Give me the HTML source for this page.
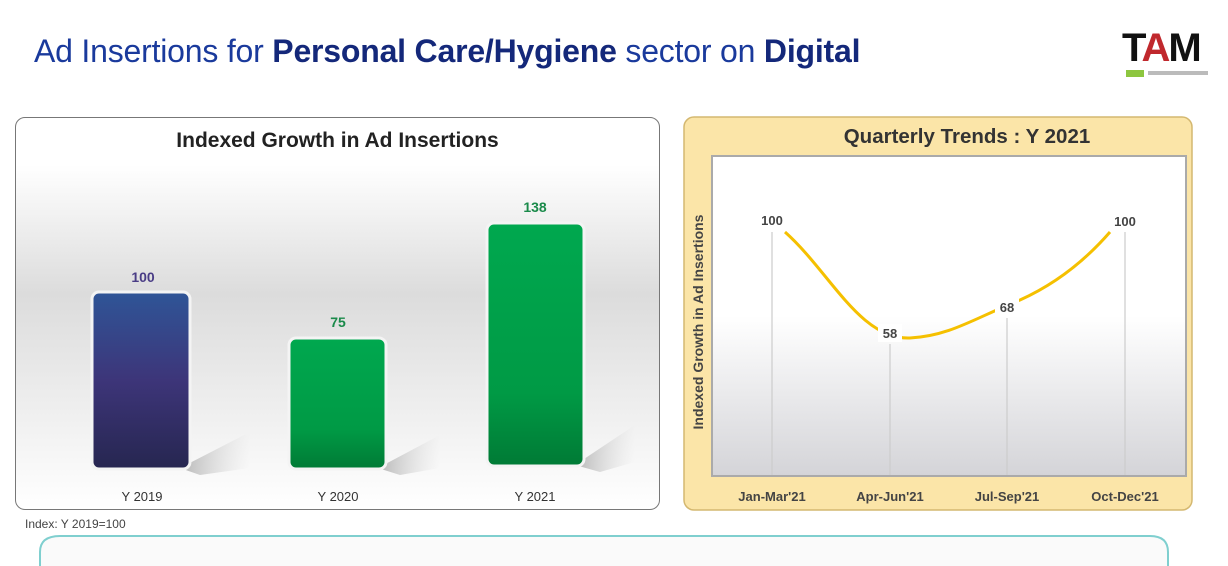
<!DOCTYPE html>
<html><head><style>
body{margin:0;width:1228px;height:566px;background:#fff;position:relative;overflow:hidden;font-family:"Liberation Sans",sans-serif}
.t{position:absolute;left:34px;top:33px;font-size:32px;color:#1a3a9c;letter-spacing:-0.2px;white-space:nowrap}
.t b{color:#14287a}
.abs{position:absolute}
</style></head><body>
<div class="t">Ad Insertions for <b>Personal Care/Hygiene</b> sector on <b>Digital</b></div>
<div class="abs" style="left:1122px;top:26px;font:bold 40px 'Liberation Sans',sans-serif;color:#111;letter-spacing:-2px">T<span style="color:#c0282d">A</span>M</div>
<div class="abs" style="left:1126px;top:70px;width:18px;height:7px;background:#8dc63f"></div>
<div class="abs" style="left:1148px;top:71px;width:60px;height:4px;background:#bbb"></div>

<div class="abs" style="left:15px;top:117px;width:643px;height:391px;border:1.5px solid #777;border-radius:10px;background:linear-gradient(#fff 0%,#fff 12%,#dcdcdc 45%,#f2f2f2 80%,#fff 100%)"></div>
<div class="abs" style="left:15px;top:129px;width:645px;text-align:center;font:bold 21px 'Liberation Sans',sans-serif;color:#222">Indexed Growth in Ad Insertions</div>
<svg class="abs" style="left:0;top:0" width="1228" height="566">
<defs>
<linearGradient id="bl" x1="0" y1="0" x2="0" y2="1"><stop offset="0" stop-color="#2f5597"/><stop offset="0.5" stop-color="#3d3579"/><stop offset="1" stop-color="#262650"/></linearGradient>
<linearGradient id="gr" x1="0" y1="0" x2="0" y2="1"><stop offset="0" stop-color="#00a84f"/><stop offset="0.7" stop-color="#009a45"/><stop offset="1" stop-color="#007a35"/></linearGradient>
<linearGradient id="sh" x1="0" y1="0" x2="1" y2="0"><stop offset="0" stop-color="#999" stop-opacity=".7"/><stop offset="1" stop-color="#ccc" stop-opacity="0"/></linearGradient>
<linearGradient id="pl" x1="0" y1="0" x2="0" y2="1"><stop offset="0" stop-color="#fff"/><stop offset="0.5" stop-color="#fff"/><stop offset="1" stop-color="#d4d4d8"/></linearGradient>
</defs>
<polygon points="180,468 250,432 250,468 200,475" fill="url(#sh)"/>
<polygon points="378,468 440,435 440,468 400,475" fill="url(#sh)"/>
<polygon points="575,465 635,425 635,462 600,472" fill="url(#sh)"/>
<rect x="92" y="292" width="98" height="177" rx="7" fill="url(#bl)" stroke="#f4f4f4" stroke-width="3"/>
<rect x="289" y="338" width="97" height="131" rx="7" fill="url(#gr)" stroke="#f4f4f4" stroke-width="3"/>
<rect x="487" y="223" width="97" height="243" rx="7" fill="url(#gr)" stroke="#f4f4f4" stroke-width="3"/>
<g font-family="Liberation Sans" font-weight="bold" font-size="14" text-anchor="middle">
<text x="143" y="282" fill="#4a3d86">100</text>
<text x="338" y="327" fill="#1a8a4a">75</text>
<text x="535" y="212" fill="#1a8a4a">138</text>
</g>
<g font-family="Liberation Sans" font-size="13" fill="#333" text-anchor="middle">
<text x="142" y="501">Y 2019</text><text x="338" y="501">Y 2020</text><text x="535" y="501">Y 2021</text>
</g>
<text x="25" y="528" font-family="Liberation Sans" font-size="12" fill="#444">Index: Y 2019=100</text>

<rect x="684" y="117" width="508" height="393" rx="10" fill="#fbe5a8" stroke="#d4b870" stroke-width="1.5"/>
<text x="967" y="143" font-family="Liberation Sans" font-weight="bold" font-size="20.5" fill="#333" text-anchor="middle">Quarterly Trends : Y 2021</text>
<rect x="712" y="156" width="474" height="320" fill="url(#pl)" stroke="#aaa" stroke-width="2"/>
<g stroke="#ccc" stroke-width="1.2">
<line x1="772" y1="232" x2="772" y2="475"/><line x1="890" y1="344" x2="890" y2="475"/>
<line x1="1007" y1="318" x2="1007" y2="475"/><line x1="1125" y1="232" x2="1125" y2="475"/>
</g>
<path d="M785,232 C830,272 860,340 910,338 C950,336 975,318 1020,300 C1060,282 1090,255 1110,232" fill="none" stroke="#f5c000" stroke-width="3"/>
<g font-family="Liberation Sans" font-weight="bold" font-size="13" fill="#444" text-anchor="middle">
<rect x="757" y="211" width="30" height="18" fill="#fff"/><text x="772" y="225">100</text>
<rect x="878" y="324" width="24" height="18" fill="#fff"/><text x="890" y="338">58</text>
<rect x="995" y="298" width="24" height="18" fill="#fff"/><text x="1007" y="312">68</text>
<rect x="1110" y="212" width="30" height="18" fill="#fff"/><text x="1125" y="226">100</text>
</g>
<text transform="translate(703,322) rotate(-90)" font-family="Liberation Sans" font-weight="bold" font-size="14" fill="#444" text-anchor="middle">Indexed Growth in Ad Insertions</text>
<g font-family="Liberation Sans" font-weight="bold" font-size="13" fill="#444" text-anchor="middle">
<text x="772" y="501">Jan-Mar'21</text><text x="890" y="501">Apr-Jun'21</text>
<text x="1007" y="501">Jul-Sep'21</text><text x="1125" y="501">Oct-Dec'21</text>
</g>
<path d="M40,566 L40,552 Q40,536 60,536 L1150,536 Q1168,536 1168,552 L1168,566" fill="#fafafa" stroke="#7fcfcf" stroke-width="2"/>
</svg>
</body></html>
